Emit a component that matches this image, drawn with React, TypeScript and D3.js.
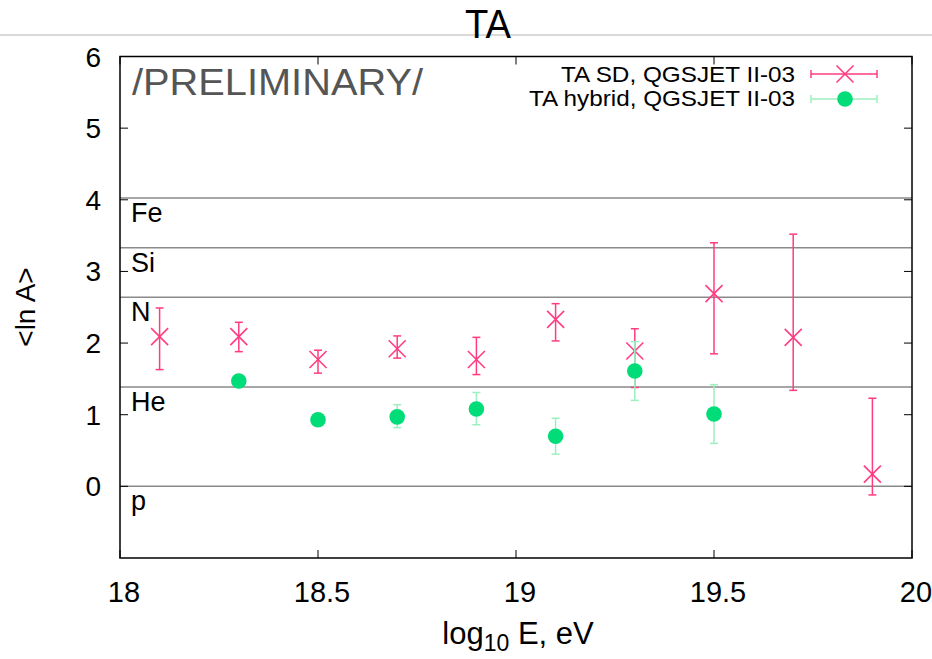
import React from "react";
import * as d3 from "d3";

const sdX = [18.1, 18.3, 18.5, 18.7, 18.9, 19.1, 19.3, 19.5, 19.7, 19.9];
const sdY = [2.09, 2.09, 1.77, 1.92, 1.77, 2.33, 1.89, 2.69, 2.08, 0.17];
const sdLo = [1.63, 1.88, 1.58, 1.79, 1.56, 2.03, 1.38, 1.85, 1.34, -0.12];
const sdHi = [2.49, 2.29, 1.9, 2.1, 2.08, 2.55, 2.2, 3.4, 3.52, 1.23];

const hyX = [18.3, 18.5, 18.7, 18.9, 19.1, 19.3, 19.5];
const hyY = [1.47, 0.93, 0.97, 1.08, 0.7, 1.61, 1.01];
const hyLo = [1.43, 0.9, 0.82, 0.86, 0.45, 1.2, 0.6];
const hyHi = [1.51, 0.96, 1.14, 1.31, 0.95, 2.02, 1.42];

const elemNames = ["Fe", "Si", "N", "He", "p"];
const elemLnA = [Math.log(56), Math.log(28), Math.log(14), Math.log(4), 0];

const xTicks = [18, 18.5, 19, 19.5, 20];
const yTicks = [0, 1, 2, 3, 4, 5, 6];

const legendLabels = ["TA SD, QGSJET II-03", "TA hybrid, QGSJET II-03"];

const PINK = "#ff3c82";
const GREEN = "#00dc78";
const GREEN_ERR = "#9cefbf";
const FONT = "'Liberation Sans', Arial, Helvetica, sans-serif";

export default function App() {
  const W = 932, H = 659;
  const L = 120, R = 912, T = 56.5, B = 558;
  const x = d3.scaleLinear().domain([18, 20]).range([L, R]);
  const y = d3.scaleLinear().domain([-1, 6]).range([B, T]);
  const tick = 8;
  const cap = 4;
  const xs = 8.5;

  const cross = (cx: number, cy: number, color: string, key: string) => (
    <g key={key} stroke={color} strokeWidth={1.6}>
      <line x1={cx - xs} y1={cy - xs} x2={cx + xs} y2={cy + xs} />
      <line x1={cx - xs} y1={cy + xs} x2={cx + xs} y2={cy - xs} />
    </g>
  );
  const vbar = (cx: number, y1: number, y2: number, color: string, key: string) => (
    <g key={key} stroke={color} strokeWidth={1.5}>
      <line x1={cx} y1={y1} x2={cx} y2={y2} />
      <line x1={cx - cap} y1={y1} x2={cx + cap} y2={y1} />
      <line x1={cx - cap} y1={y2} x2={cx + cap} y2={y2} />
    </g>
  );
  const hbar = (x1: number, x2: number, cy: number, color: string, key: string) => (
    <g key={key} stroke={color} strokeWidth={1.5}>
      <line x1={x1} y1={cy} x2={x2} y2={cy} />
      <line x1={x1} y1={cy - cap} x2={x1} y2={cy + cap} />
      <line x1={x2} y1={cy - cap} x2={x2} y2={cy + cap} />
    </g>
  );

  return (
    <svg width={W} height={H} style={{ position: "absolute", left: 0, top: 0, background: "#fff" }} fontFamily={FONT}>
      <rect x={0} y={0} width={W} height={H} fill="#fff" />
      <line x1={0} x2={W} y1={35} y2={35} stroke="#b4b4b4" strokeWidth={1} />
      <text x={465} y={38} fontSize={41} textLength={46} lengthAdjust="spacingAndGlyphs" fill="#000">TA</text>

      {/* element lines */}
      {elemLnA.map((v, i) => (
        <line key={"el" + i} x1={L} x2={R} y1={y(v)} y2={y(v)} stroke="#8a8a8a" strokeWidth={1.5} />
      ))}
      {elemNames.map((n, i) => (
        <text key={"en" + i} x={131} y={y(elemLnA[i]) + 24} fontSize={27} fill="#000">{n}</text>
      ))}

      {/* ticks */}
      {yTicks.map((v) => (
        <g key={"yt" + v} stroke="#000" strokeWidth={1}>
          <line x1={L} x2={L + tick} y1={y(v)} y2={y(v)} />
          <line x1={R} x2={R - tick} y1={y(v)} y2={y(v)} />
        </g>
      ))}
      {xTicks.map((v) => (
        <g key={"xt" + v} stroke="#000" strokeWidth={1}>
          <line x1={x(v)} x2={x(v)} y1={B} y2={B - tick} />
          <line x1={x(v)} x2={x(v)} y1={T} y2={T + tick} />
        </g>
      ))}
      {yTicks.map((v) => (
        <text key={"yl" + v} x={101} y={y(v) + 10} fontSize={28} textAnchor="end" fill="#000">{v}</text>
      ))}
      {xTicks.map((v) => (
        <text key={"xl" + v} x={x(v) + 4} y={602} fontSize={29} textAnchor="middle" fill="#000">{v}</text>
      ))}

      <text x={132} y={95} fontSize={36} textLength={291} lengthAdjust="spacingAndGlyphs" fill="#555">/PRELIMINARY/</text>

      {/* SD data */}
      {sdX.map((v, i) => vbar(x(v), y(sdHi[i]), y(sdLo[i]), PINK, "sdb" + i))}
      {sdX.map((v, i) => cross(x(v), y(sdY[i]), PINK, "sdm" + i))}

      {/* hybrid data */}
      {hyX.map((v, i) => vbar(x(v), y(hyHi[i]), y(hyLo[i]), GREEN_ERR, "hyb" + i))}
      {hyX.map((v, i) => (
        <circle key={"hym" + i} cx={x(v)} cy={y(hyY[i])} r={7.8} fill={GREEN} />
      ))}

      {/* frame */}
      <rect x={L} y={T} width={R - L} height={B - T} fill="none" stroke="#000" strokeWidth={1.5} />

      {/* legend */}
      <text x={561} y={82} fontSize={22} textLength={234} lengthAdjust="spacingAndGlyphs" fill="#000">{legendLabels[0]}</text>
      <text x={529} y={106} fontSize={22} textLength={266} lengthAdjust="spacingAndGlyphs" fill="#000">{legendLabels[1]}</text>
      {hbar(811, 877, 74, PINK, "lg1")}
      {cross(845, 74, PINK, "lg1m")}
      {hbar(811, 877, 99, GREEN_ERR, "lg2")}
      <circle cx={845} cy={99} r={7.8} fill={GREEN} />

      {/* axis labels */}
      <text x={518} y={644} fontSize={31} textAnchor="middle" fill="#000">
        log<tspan fontSize={23} dy={7}>10</tspan><tspan dy={-7}> E, eV</tspan>
      </text>
      <text transform="translate(35,307) rotate(-90)" fontSize={28} textAnchor="middle" fill="#000">{"<ln A>"}</text>
    </svg>
  );
}
